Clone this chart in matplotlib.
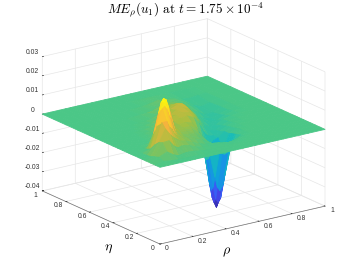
import numpy as np
import matplotlib
matplotlib.use('Agg')
import matplotlib.pyplot as plt
from matplotlib.colors import LinearSegmentedColormap, Normalize

plt.rcParams['font.family'] = ['Liberation Sans', 'DejaVu Sans']
plt.rcParams['mathtext.fontset'] = 'cm'

# Values (units of 1e-3)
rho = [0, .05, .1, .14, .17, .185, .2, .215, .23, .26, .3, .34, .38, .42, .46, .49, .505, .52, .535, .55, .58, .62, .66, .7, .75, .8, .85, .9, 1]
eta = [0, .04, .08, .12, .15, .18, .22, .235, .25, .265, .28, .32, .36, .4, .45, .5, .55, .6, .7, .8, .9, 1]
z_e000 = [0]*29
z_e004 = [0, 1, .4, .1] + [0]*25
z_e008 = [0, 2, 3.8, 1.5, .5, .7, 1, 1.2, 1.2, 1, .5, .1, 0, 0, 0, 0, 0, 0, 0, 0, 0, 0, 0, 0, 0, 0, 0, 0, 0]
z_e012 = [0, 1.2, 7.5, 7.8, 4.5, 3.5, 3, 3.5, 3.5, 3, 1.5, .5, .1, 0, -.1, -.2, -.3, -.3, -.3, -.2, -.1, 0, 0, 0, 0, 0, 0, 0, 0]
z_e015 = [0, .4, 6.8, 13, 9.5, 8, 7, 6, 5, 4.5, 3, 1.5, .4, 0, -.5, -1.1, -1.4, -1.5, -1.4, -1.1, -.5, -.1, 0, 0, 0, 0, 0, 0, 0]
z_e018 = [0, .2, 4.9, 15.5, 15.5, 12.5, 11, 8.5, 7, 5.5, 4, 3, 2, 0, -2.7, -6.3, -7.8, -8.4, -7.8, -6.3, -2.7, -.4, 0, 0, 0, 0, 0, 0, 0]
z_e022 = [0, 0, 1.5, 13, 21, 22, 20, 16, 11, 6, 4, 3, 2.5, 1, -9, -21, -26.5, -28.5, -26.5, -21, -9, -1.2, 0, 0, 0, 0, 0, 0, 0]
z_e235 = [0, 0, 1, 10, 20, 23.5, 23, 20, 15, 7.5, 4.5, 4, 3.5, 1.5, -11, -26.5, -33, -35, -33, -26.5, -11, -1.5, 0, 0, 0, 0, 0, 0, 0]
z_e025 = [0, 0, .5, 8, 18, 23, 25, 24, 20, 10, 5, 5, 4, 2, -12, -28.5, -35, -38, -35, -28.5, -12, -1.7, 0, 0, 0, 0, 0, 0, 0]
z_e265 = [0, 0, .2, 3, 10, 16, 20, 20, 17, 9, 5.5, 5.5, 5, 3, -10, -26, -33, -35, -33, -27, -11.5, -2, -.3, 0, 0, 0, 0, 0, 0]
z_e028 = [0, 0, 0, .7, 4, 8, 13, 14, 12, 6.5, 6, 6, 6, 4.5, -6, -20, -26, -28.5, -27, -22, -10, -2.5, -.5, 0, 0, 0, 0, 0, 0]
z_e032 = [0, 0, 0, 0, .5, 1, 2.5, 3.5, 4, 4.5, 5, 6.5, 7, 6, 1, -5, -7, -8, -7, -6, -5, -2.5, -1, 0, 0, 0, 0, 0, 0]
z_e036 = [0, 0, 0, 0, 0, 0, .5, 1, 1.5, 3, 5, 7, 8, 8.5, 7, 4, 1.5, -1.5, -3.5, -4.5, -5, -3.5, -1.5, -.5, 0, 0, 0, 0, 0]
z_e040 = [0, 0, 0, 0, 0, 0, .3, .5, .8, 2, 4, 7, 8.5, 9, 8.5, 6, 5, 3, 1, -.5, -3.5, -4, -2.5, -1, 0, 0, 0, 0, 0]
z_e045 = [0, 0, 0, 0, 0, .2, .3, .4, .5, 1, 2, 4, 7, 9, 9.5, 8.5, 7, 5.5, 4, 2, -1.5, -3.5, -3.5, -1.5, -.5, 0, 0, 0, 0]
z_e050 = [0, 0, 0, 0, 0, 0, 0, .2, .3, .5, 1, 2.5, 5, 8, 9.5, 9.5, 8.5, 7, 5.5, 4, 1, -2, -3.5, -3.5, -1.5, -.3, 0, 0, 0]
z_e055 = [0, 0, 0, 0, 0, 0, 0, 0, 0, .3, .5, 1, 2.5, 5, 7.5, 8, 8, 7.5, 6, 5, 2, -1, -3, -3.5, -2.5, -1, 0, 0, 0]
z_e060 = [0, 0, 0, 0, 0, 0, 0, 0, 0, 0, .3, .5, 1, 2.5, 4.5, 6, 6, 6, 5, 4, 3, 1, -1, -3, -3, -1, 0, 0, 0]
z_e070 = [0, 0, 0, 0, 0, 0, 0, 0, 0, 0, 0, 0, .3, .5, 1, 2, 2.5, 3, 3, 3, 3, 2, 1, -1, -2.5, -1.5, 0, 0, 0]
z_e080 = [0, 0, 0, 0, 0, 0, 0, 0, 0, 0, 0, 0, 0, 0, .3, .5, .7, 1, 1.2, 1.5, 1.5, 1, .5, -.5, -1, -.5, -.2, 0, 0]
z_e090 = [0]*29
z_e100 = [0]*29

rho_ticks = [0, .2, .4, .6, .8, 1]
eta_ticks = [0, .2, .4, .6, .8, 1]
z_ticks = [-.04, -.03, -.02, -.01, 0, .01, .02, .03]
z_labels = ['-0.04', '-0.03', '-0.02', '-0.01', '0', '0.01', '0.02', '0.03']

Z = np.array([z_e000, z_e004, z_e008, z_e012, z_e015, z_e018, z_e022, z_e235, z_e025, z_e265, z_e028, z_e032, z_e036,
              z_e040, z_e045, z_e050, z_e055, z_e060, z_e070, z_e080, z_e090, z_e100]) * 1e-3
R, E = np.meshgrid(rho, eta)

parula = LinearSegmentedColormap.from_list('parula', [
    (0, (0.21, 0.17, 0.66)), (.125, (0.27, 0.30, 0.96)), (.25, (0.13, 0.50, 0.95)), (.375, (0.05, 0.66, 0.84)),
    (.5, (0.10, 0.74, 0.72)), (.607, (0.29, 0.78, 0.53)), (.72, (0.65, 0.75, 0.25)), (.83, (0.97, 0.70, 0.24)),
    (1, (0.98, 0.98, 0.05))])
norm = Normalize(-0.037, 0.024)
cell = (Z[:-1, :-1] + Z[1:, :-1] + Z[:-1, 1:] + Z[1:, 1:]) / 4

fig = plt.figure(figsize=(3.6, 2.7), dpi=100)
ax = fig.add_axes([0.0, 0.0, 1, 1], projection='3d', proj_type='ortho')
ax.view_init(elev=18.8, azim=-125.5)
ax.set_box_aspect((1, 1, 0.70), zoom=1.15)
surf = ax.plot_surface(R, E, Z, facecolors=parula(norm(np.asarray(cell))), shade=False, rstride=1, cstride=1,
                       linewidth=0.6, antialiased=True)
surf.set_clip_on(False)
ax.set_xlim(0, 1, view_margin=0)
ax.set_ylim(0, 1, view_margin=0)
ax.set_zlim(-0.04, 0.03, view_margin=0)
ax.set_xticks(rho_ticks, ['0', '0.2', '0.4', '0.6', '0.8', '1'], ha='left', va='bottom')
ax.set_yticks(eta_ticks, ['0', '0.2', '0.4', '0.6', '0.8', '1'], va='bottom')
ax.set_zticks(z_ticks, z_labels, va='bottom')
for a in (ax.xaxis, ax.yaxis, ax.zaxis):
    a.set_pane_color((1, 1, 1, 1))
    a.pane.set_edgecolor((1, 1, 1, 0))
    a._axinfo['grid'].update(color=(0.9, 0.9, 0.9), linewidth=0.5)
    a._axinfo['tick'].update(inward_factor=0.0, outward_factor=0.1, linewidth={True: .4, False: .4}, color=(.4, .4, .4))
    a.line.set_color((.45, .45, .45))
    a.line.set_linewidth(.5)
ax.zaxis.line.set_color((1, 1, 1, 0))
ax.tick_params(labelsize=4.9, labelcolor=(.2, .2, .2))
ax.xaxis.set_tick_params(pad=-3.5)
ax.yaxis.set_tick_params(pad=-3.5)
ax.zaxis.set_tick_params(pad=-4.5)
fig.text(227/360, 1-252/270, r'$\rho$', fontsize=10, ha='center', va='center')
fig.text(109/360, 1-248/270, r'$\eta$', fontsize=10, ha='center', va='center')
fig.suptitle(r'$ME_\rho(u_1)$ at $t=1.75\times 10^{-4}$', x=186/360, y=1-10/270, va='center',
             fontsize=9.5, family='cmr10')
fig.savefig('out.png', dpi=100)
